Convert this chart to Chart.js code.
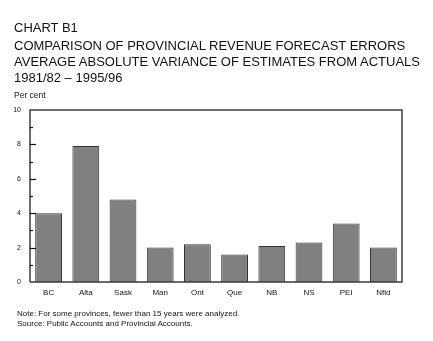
<!DOCTYPE html>
<html>
<head>
<meta charset="utf-8">
<script src="https://cdn.jsdelivr.net/npm/chart.js@4/dist/chart.umd.min.js"></script>
<style>
body{margin:0;background:#fff;}
#wrap{position:relative;width:433px;height:341px;overflow:hidden;font-family:"Liberation Sans",Arial,sans-serif;color:#111;}
#wrap canvas{position:absolute;left:0;top:0;}
.t{position:absolute;left:14px;white-space:nowrap;font-size:13px;line-height:13px;}
.s{position:absolute;left:14px;white-space:nowrap;font-size:8px;line-height:8px;}
</style>
</head>
<body>
<div id="wrap">
<canvas id="chart" width="433" height="341"></canvas>
<div class="t" style="top:21px">CHART B1</div>
<div class="t" style="top:39px">COMPARISON OF PROVINCIAL REVENUE FORECAST ERRORS</div>
<div class="t" style="top:55px">AVERAGE ABSOLUTE VARIANCE OF ESTIMATES FROM ACTUALS</div>
<div class="t" style="top:71px">1981/82 – 1995/96</div>
<div class="s" style="top:91px;font-size:8.5px">Per cent</div>
<div class="s" style="top:310px;left:17px">Note: For some provinces, fewer than 15 years were analyzed.</div>
<div class="s" style="top:320px;left:17px">Source: Public Accounts and Provincial Accounts.</div>
</div>
<script>

/* Data */

const provinces=["BC","Alta","Sask","Man","Ont","Que","NB","NS","PEI","Nfld"];
const variance=[4.0,7.9,4.8,2.0,2.2,1.6,2.1,2.3,3.4,2.0];
const yTicks=[0,2,4,6,8,10];

/* Frame and inside tick marks */

const framePlugin={
id:"frame",
afterDraw(chart){
const c=chart.ctx;
const a=chart.chartArea;
const y=chart.scales.y;
c.save();
c.strokeStyle="#3a3a3a";
c.lineWidth=1.5;
c.beginPath();
c.moveTo(a.left,a.bottom);
c.lineTo(a.left,a.top);
c.lineTo(a.right,a.top);
c.lineTo(a.right,a.bottom);
c.lineTo(a.left,a.bottom);
c.stroke();
c.lineWidth=1.2;
c.strokeStyle="#111";
for(let v=1;v<10;v++){
const py=Math.round(y.getPixelForValue(v))+0.5;
const len=(v%2===0)?6:3;
c.beginPath();
c.moveTo(a.left,py);
c.lineTo(a.left+len,py);
c.stroke();
}
c.restore();
}
};

new Chart(document.getElementById("chart"),{
type:"bar",
data:{
labels:provinces,
datasets:[{
data:variance,
backgroundColor:"#808080",
borderColor:"#333",
borderWidth:1,
categoryPercentage:0.8,
barPercentage:0.9
}]
},
options:{
responsive:false,
animation:false,
devicePixelRatio:1,
layout:{padding:{left:0,top:110,right:31,bottom:0}},
plugins:{legend:{display:false},tooltip:{enabled:false},title:{display:false}},
scales:{
x:{
grid:{display:false,drawTicks:false},
border:{display:false},
ticks:{color:"#111",padding:6,font:{family:"Liberation Sans",size:8}},
afterFit(s){s.height=59;}
},
y:{
min:0,max:10,
grid:{display:false,drawTicks:false},
border:{display:false},
ticks:{
stepSize:1,
color:"#111",
padding:9,
font:{family:"Liberation Sans",size:7},
callback:(v)=>yTicks.includes(v)?v:""
},
afterFit(s){s.width=30;}
}
}
},
plugins:[framePlugin]
});

</script>
</body>
</html>
